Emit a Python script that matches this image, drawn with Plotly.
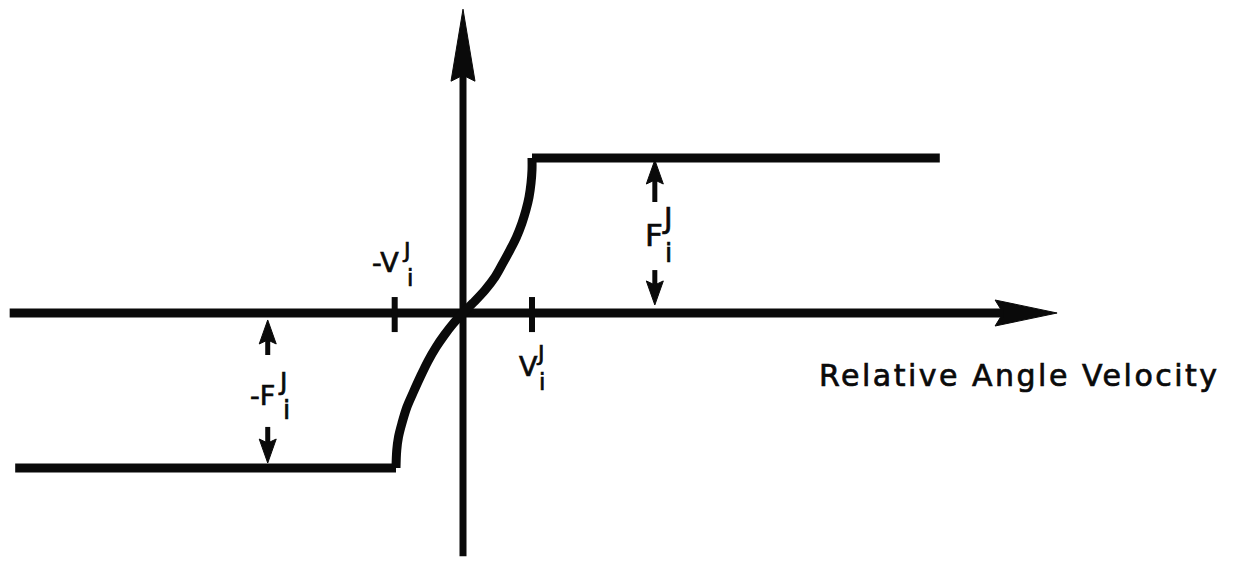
import plotly.graph_objects as go

# friction characteristic: x in units of V_i^J, y in units of F_i^J
curve_v = [-0.971, -0.96, -0.935, -0.884, -0.812, -0.725, -0.62, -0.507, -0.39,
           -0.275, -0.145, 0.0, 0.145, 0.319, 0.464, 0.58, 0.681, 0.775, 0.855,
           0.913, 0.957, 0.986, 1.0, 1.0]
curve_f = [-1.0, -0.884, -0.80, -0.71, -0.606, -0.516, -0.413, -0.31, -0.22,
           -0.145, -0.07, 0.0, 0.065, 0.148, 0.232, 0.323, 0.406, 0.490, 0.581,
           0.665, 0.748, 0.839, 0.923, 1.0]
plateau_lo_v = [-6.49, -0.971]
plateau_hi_v = [1.0, 6.91]
plateau_f = [-1.0, 1.0]

# axes extents
h_axis = [-6.57, 8.61]
v_axis = [-1.57, 1.96]
tick_pos = [-0.99, 1.0]
tick_len = [-0.123, 0.103]

# dimension arrows (x position, tail, tip)
dim_x = [2.78, 2.78, -2.83, -2.83]
dim_tail = [0.716, 0.277, -0.271, -0.735]
dim_tip = [0.987, 0.052, -0.045, -0.968]

x_title = "Relative Angle Velocity"

# pixel scale of one unit (for arrowhead shapes); page body adds an 8px offset
SX, SY = 69.0, 155.0
OX, OY = 463 - 8, 313 - 8
INK = "#0a0a0a"

fig = go.Figure()


def line(xs, ys, w, shape="linear"):
    fig.add_trace(go.Scatter(x=xs, y=ys, mode="lines", hoverinfo="skip",
                             line=dict(color=INK, width=w, shape=shape)))


def head(tx, ty, dx, dy, length, half, notch):
    # dx, dy: direction in pixel space (y up)
    bx, by = -dx * length, -dy * length
    nx, ny = -dx * (length - notch), -dy * (length - notch)
    px, py = -dy * half, dx * half
    pts = [(0, 0), (bx + px, by + py), (nx, ny), (bx - px, by - py), (0, 0)]
    fig.add_trace(go.Scatter(
        x=[tx + p[0] / SX for p in pts], y=[ty + p[1] / SY for p in pts],
        mode="lines", fill="toself", fillcolor=INK, hoverinfo="skip",
        line=dict(color=INK, width=1)))
    return tx - dx * (length - notch) / SX, ty - dy * (length - notch) / SY


# horizontal axis with arrow
ex, ey = head(h_axis[1], 0, 1, 0, 62, 13, 8)
line([h_axis[0], ex], [0, 0], 9)
# vertical axis with arrow
ex, ey = head(0, v_axis[1], 0, 1, 72, 12, 6)
line([0, 0], [v_axis[0], ey], 7)

# ticks
for t in tick_pos:
    line([t, t], tick_len, 6)

# characteristic curve and saturation levels
line(curve_v, curve_f, 9, "spline")
line(plateau_lo_v, [plateau_f[0]] * 2, 9)
line(plateau_hi_v, [plateau_f[1]] * 2, 9)

# dimension arrows
for x, a, b in zip(dim_x, dim_tail, dim_tip):
    d = 1 if b > a else -1
    ex, ey = head(x, b, 0, d, 24, 8.5, 4)
    line([x, x], [a, ey], 5)

font = "DejaVu Sans"


def heavy(txt, extra=""):
    return ('<span style="stroke:%s;stroke-width:0.7px;%s">' % (INK, extra)) + txt + "</span>"


labels = [
    ("-V", -1.123, 0.323, 27), ("J", -0.826, 0.403, 22), ("i", -0.768, 0.229, 23),
    ("V", 0.949, -0.342, 27), ("J", 1.130, -0.261, 22), ("i", 1.138, -0.442, 23),
    ("F", 2.768, 0.503, 31), ("J", 2.964, 0.610, 29), ("i", 2.971, 0.387, 26),
    ("-F", -2.906, -0.529, 27), ("J", -2.616, -0.439, 25), ("i", -2.558, -0.626, 26),
]
for txt, x, y, s in labels:
    fig.add_annotation(x=x, y=y, text=heavy(txt), showarrow=False, xanchor="center",
                       yanchor="middle", font=dict(family=font, size=s, color=INK))

fig.add_annotation(x=8.07, y=-0.406, showarrow=False, xanchor="center", yanchor="middle",
                   text=heavy(x_title, "letter-spacing:2.5px;"),
                   font=dict(family=font, size=30, color=INK))

fig.update_layout(
    width=1247, height=563, margin=dict(l=0, r=0, t=0, b=0),
    paper_bgcolor="white", plot_bgcolor="white", showlegend=False,
    xaxis=dict(range=[-OX / SX, (1247 - OX) / SX], visible=False, fixedrange=True),
    yaxis=dict(range=[-(563 - OY) / SY, OY / SY], visible=False, fixedrange=True),
)

fig.write_html("out.html")
